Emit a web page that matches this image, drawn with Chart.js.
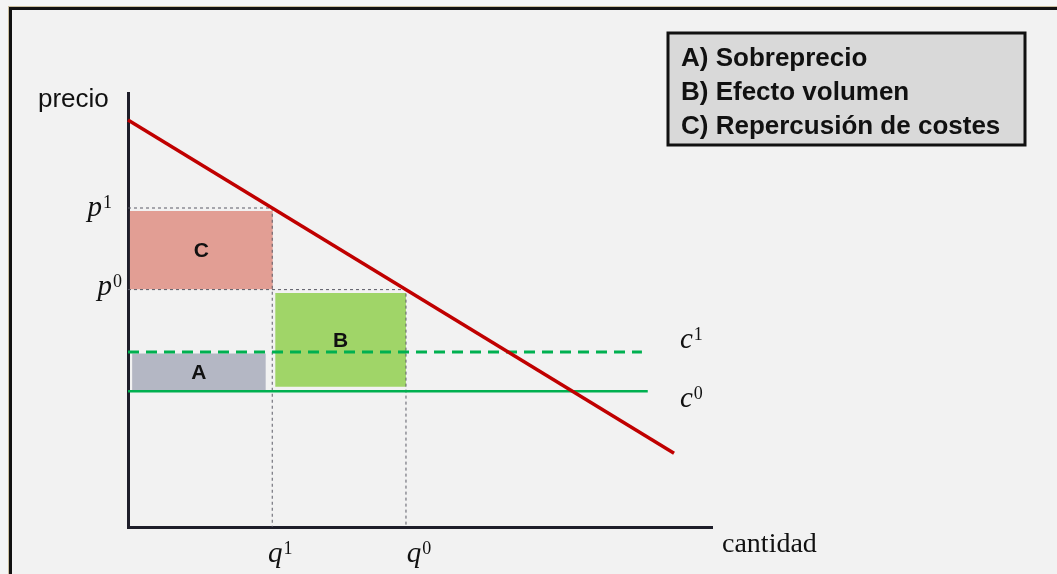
<!DOCTYPE html>
<html lang="es">
<head>
<meta charset="utf-8">
<title>Sobreprecio, efecto volumen y repercusión de costes</title>
<script src="https://cdn.jsdelivr.net/npm/chart.js@4.4.1/dist/chart.umd.min.js"></script>
<style>
  html, body { margin: 0; padding: 0; background: #f4f4f4; overflow: hidden; }
  .frame {
    position: absolute; left: 9px; top: 7px; width: 1100px; height: 620px;
    border: 3px solid #111; background: #f2f2f2;
    box-shadow: 0 0 0 1px #cbbf9f;
  }
  #chart { position: absolute; left: 0; top: 0; }
</style>
</head>
<body>
<div class="frame"></div>
<canvas id="chart" width="1057" height="574"></canvas>

<script>
// valores (unidades arbitrarias, ejes 0-100)
var demandQ = [0, 93.5];
var demandP = [93.8, 17.0];

var qValues = [24.7, 47.6];      // q1, q0
var pValues = [73.5, 54.7];      // p1, p0
var cValues = [40.3, 31.3];      // c1, c0
var cEnds   = [88.0, 89.0];

var qExp = ['1', '0'];
var pExp = ['1', '0'];
var cExp = ['1', '0'];

// áreas: [q inicio, q fin, p abajo, p arriba]
var areaNames  = ['A', 'B', 'C'];
var areaQFrom  = [0.7, 25.2, 0.3];
var areaQTo    = [23.6, 47.6, 24.8];
var areaPFrom  = [31.4, 32.3, 54.8];
var areaPTo    = [40.0, 53.9, 72.8];
var areaColors = ['#b4b7c4', '#a0d568', '#e29e94'];

var legendLines = ['A) Sobreprecio', 'B) Efecto volumen', 'C) Repercusión de costes'];

var datasets = [];

datasets.push({
  label: 'demanda',
  data: demandQ.map(function(q, i) { return {x: q, y: demandP[i]}; }),
  borderColor: '#c00000', borderWidth: 3.5, order: 1
});
datasets.push({
  label: 'c1',
  data: [{x: 0, y: cValues[0]}, {x: cEnds[0], y: cValues[0]}],
  borderColor: '#00b050', borderWidth: 3, borderDash: [11, 7], order: 2
});
datasets.push({
  label: 'c0',
  data: [{x: 0, y: cValues[1]}, {x: cEnds[1], y: cValues[1]}],
  borderColor: '#00b050', borderWidth: 2.5, order: 2
});
for (var i = 0; i < qValues.length; i++) {
  datasets.push({
    label: 'guia' + i,
    data: [{x: 0, y: pValues[i]}, {x: qValues[i], y: pValues[i]}, {x: qValues[i], y: 0}],
    borderColor: '#5b5b66', borderWidth: 1, borderDash: [3, 3], order: 3
  });
}
for (var j = 0; j < areaNames.length; j++) {
  datasets.push({
    label: 'area' + areaNames[j],
    data: [{x: areaQFrom[j], y: areaPTo[j]}, {x: areaQTo[j], y: areaPTo[j]}],
    borderWidth: 0, borderColor: 'rgba(0,0,0,0)',
    backgroundColor: areaColors[j],
    fill: {value: areaPFrom[j]}, order: 5
  });
}

function mathLabel(ctx, base, exp, x, y, align) {
  ctx.textBaseline = 'alphabetic';
  ctx.textAlign = 'left';
  ctx.font = 'italic 29px "Liberation Serif"';
  var w1 = ctx.measureText(base).width;
  ctx.font = '18px "Liberation Serif"';
  var w2 = ctx.measureText(exp).width;
  var x0 = x;
  if (align === 'right') x0 = x - w1 - w2 - 1;
  if (align === 'center') x0 = x - (w1 + w2 + 1) / 2;
  ctx.font = 'italic 29px "Liberation Serif"';
  ctx.fillText(base, x0, y);
  ctx.font = '18px "Liberation Serif"';
  ctx.fillText(exp, x0 + w1 + 1, y - 8);
}

var textPlugin = {
  id: 'textos',
  afterDraw: function(chart) {
    var ctx = chart.ctx;
    var xs = chart.scales.x, ys = chart.scales.y;
    ctx.save();
    ctx.fillStyle = '#111';

    // títulos de ejes
    ctx.font = '26px "Liberation Sans"';
    ctx.textAlign = 'left';
    ctx.textBaseline = 'alphabetic';
    ctx.fillText('precio', 38, 107);
    ctx.font = '28px "Liberation Serif"';
    ctx.fillText('cantidad', 722, 552);

    // etiquetas p, q, c
    var pNudge = [-16, -6];
    var pBase = [8, 5];
    for (var i = 0; i < pValues.length; i++) {
      mathLabel(ctx, 'p', pExp[i], xs.left + pNudge[i], ys.getPixelForValue(pValues[i]) + pBase[i], 'right');
    }
    var qNudge = [8, 13];
    for (var k = 0; k < qValues.length; k++) {
      mathLabel(ctx, 'q', qExp[k], xs.getPixelForValue(qValues[k]) + qNudge[k], ys.bottom + 35, 'center');
    }
    var cBase = [-4, 16];
    for (var m = 0; m < cValues.length; m++) {
      mathLabel(ctx, 'c', cExp[m], 680, ys.getPixelForValue(cValues[m]) + cBase[m], 'left');
    }

    // letras de las áreas
    ctx.font = 'bold 21px "Liberation Sans"';
    ctx.textAlign = 'center';
    ctx.textBaseline = 'middle';
    for (var n = 0; n < areaNames.length; n++) {
      var cx = xs.getPixelForValue((areaQFrom[n] + areaQTo[n]) / 2);
      var cy = ys.getPixelForValue((areaPFrom[n] + areaPTo[n]) / 2);
      ctx.fillText(areaNames[n], cx, cy + 1);
    }

    // cuadro de leyenda
    ctx.fillStyle = '#d9d9d9';
    ctx.fillRect(668, 33, 357, 112);
    ctx.lineWidth = 3;
    ctx.strokeStyle = '#111';
    ctx.strokeRect(668, 33, 357, 112);
    ctx.fillStyle = '#111';
    ctx.font = 'bold 26px "Liberation Sans"';
    ctx.textAlign = 'left';
    ctx.textBaseline = 'alphabetic';
    for (var t = 0; t < legendLines.length; t++) {
      ctx.fillText(legendLines[t], 681, 66 + t * 34);
    }
    ctx.restore();
  }
};

new Chart(document.getElementById('chart'), {
  type: 'scatter',
  data: { datasets: datasets },
  options: {
    responsive: false,
    devicePixelRatio: 1,
    animation: false,
    showLine: true,
    clip: false,
    layout: { padding: { left: 0, top: 93, right: 345, bottom: 0 } },
    elements: { point: { radius: 0 }, line: { tension: 0 } },
    plugins: { legend: { display: false }, tooltip: { enabled: false } },
    scales: {
      x: {
        type: 'linear', min: 0, max: 100,
        grid: { display: false },
        ticks: { display: false },
        border: { display: true, color: '#1e1e2a', width: 3 },
        afterFit: function(s) { s.height = 47; }
      },
      y: {
        type: 'linear', min: 0, max: 100,
        grid: { display: false },
        ticks: { display: false },
        border: { display: true, color: '#1e1e2a', width: 3 },
        afterFit: function(s) { s.width = 128; }
      }
    }
  },
  plugins: [textPlugin]
});
</script>
</body>
</html>
